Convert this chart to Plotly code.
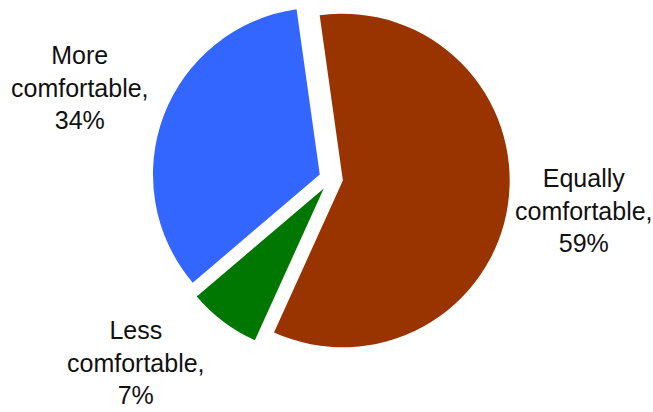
import plotly.graph_objects as go

labels = ["Equally comfortable", "Less comfortable", "More comfortable"]
values = [59, 7, 34]
colors = ["#993300", "#007700", "#3366ff"]
label_x = [584, 136, 80]
label_y = [210, 362, 87]

W, H = 653, 412

fig = go.Figure(go.Pie(
    labels=labels,
    values=values,
    sort=False,
    direction="clockwise",
    rotation=-8,
    pull=[0.072, 0.072, 0.072],
    marker=dict(colors=colors, line=dict(width=0)),
    textinfo="none",
    hoverinfo="label+percent",
    showlegend=False,
    domain=dict(x=[152 / W, 510 / W], y=[0.132, 1.0]),
))

for lab, v, lx, ly in zip(labels, values, label_x, label_y):
    first, second = lab.split(" ")
    fig.add_annotation(
        x=lx / W, y=1 - ly / H, xref="paper", yref="paper",
        text=f"{first}<br>{second},<br>{v}%",
        showarrow=False, xanchor="center", yanchor="middle",
        font=dict(family="Liberation Sans, Arial, sans-serif", size=25, color="#111111"),
        align="center",
    )

fig.update_layout(
    width=W, height=H,
    margin=dict(l=0, r=0, t=0, b=0),
    paper_bgcolor="white",
    plot_bgcolor="white",
)

fig.write_html("out.html")
